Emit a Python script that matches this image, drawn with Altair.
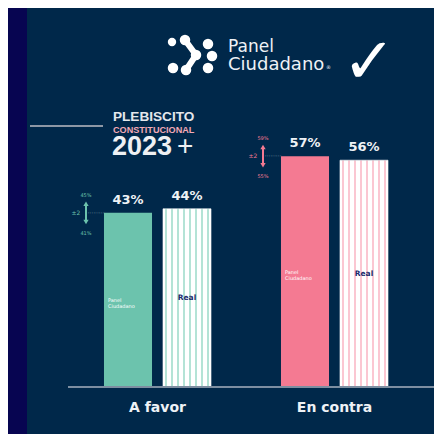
import altair as alt
import pandas as pd

# ---------------- data ----------------
categories = ["A favor", "En contra"]
series = ["Panel Ciudadano", "Real"]
panel_values = [43, 57]
real_values = [44, 56]
panel_labels = ["43%", "57%"]
real_labels = ["44%", "56%"]
margin_labels = ["±2", "±2"]
panel_upper = [45, 59]
panel_lower = [41, 55]
upper_labels = ["45%", "59%"]
lower_labels = ["41%", "55%"]
inner_labels = {"Panel Ciudadano": "Panel\nCiudadano", "Real": "Real"}

brand_lines = ["Panel", "Ciudadano"]
title_lines = ["PLEBISCITO", "CONSTITUCIONAL", "2023", "+"]

# logo dots (logo units) and chevron path
logo_x = [5, 18, 29, 41, 45, 41, 6, 19]
logo_y = [7, 5, 20, 9, 21, 33, 33, 35]
logo_size = [70, 110, 110, 110, 110, 110, 110, 110]
chev_x = [18, 29, 19]
chev_y = [5, 20, 35]

# ---------------- styles ----------------
BG_OUTER = "#070551"
BG = "#00284a"
TEAL = "#6cc3ad"
PINK = "#f47a92"
TEAL_STRIPE = "#b4e3d6"
PINK_STRIPE = "#fbc7d2"
TXT = "#eef2f6"
NAVY = "#1c2b6b"

SPACER = " "
def key(c, s):
    return f"{c} · {s}"

x_domain = [key(categories[0], series[0]), key(categories[0], series[1]), SPACER,
            key(categories[1], series[0]), key(categories[1], series[1])]

rows = []
for i, c in enumerate(categories):
    rows.append(dict(cat=c, series=series[0], key=key(c, series[0]), value=panel_values[i],
                     mid=panel_values[i] / 2, label=panel_labels[i], inner=inner_labels[series[0]],
                     hi=panel_upper[i], lo=panel_lower[i], hi_label=upper_labels[i],
                     lo_label=lower_labels[i], moe=margin_labels[i]))
    rows.append(dict(cat=c, series=series[1], key=key(c, series[1]), value=real_values[i],
                     mid=real_values[i] / 2, label=real_labels[i], inner=inner_labels[series[1]],
                     hi=None, lo=None, hi_label="", lo_label="", moe=""))
df = pd.DataFrame(rows)
df_panel = df[df.series == series[0]]
df_real = df[df.series == series[1]]
one = pd.DataFrame({"a": [0]})

X = alt.X("key:N", scale=alt.Scale(domain=x_domain, range=[90.5, 385.5],
                                   paddingInner=0.186, paddingOuter=0.093), axis=None)
YS = alt.Scale(domain=[0, 100], range=[379, -26], nice=False)
COL = alt.Color("cat:N", scale=alt.Scale(domain=categories, range=[TEAL, PINK]), legend=None)


def txt(text, x, y, **kw):
    return alt.Chart(one).mark_text(text=text, **kw).encode(x=alt.value(x), y=alt.value(y))


def stripes(color, n=8, w=0.36):
    stops = [alt.GradientStop(offset=0, color="#ffffff")]
    for i in range(n):
        s = (i + 0.5 - w / 2) / n
        e = (i + 0.5 + w / 2) / n
        stops += [alt.GradientStop(offset=s, color="#ffffff"), alt.GradientStop(offset=s, color=color),
                  alt.GradientStop(offset=e, color=color), alt.GradientStop(offset=e, color="#ffffff")]
    stops.append(alt.GradientStop(offset=1, color="#ffffff"))
    return alt.LinearGradient(gradient="linear", stops=stops, x1=0, x2=1, y1=0, y2=0)


# ---------------- background ----------------
bg = alt.Chart(one).mark_rect(color=BG).encode(
    x=alt.value(19), x2=alt.value(426), y=alt.value(0), y2=alt.value(426))

# ---------------- header ----------------
brand = alt.layer(
    txt(brand_lines[0], 220, 44, align="left", baseline="alphabetic", font="DejaVu Sans", fontSize=17, color=TXT),
    txt(brand_lines[1], 220, 62, align="left", baseline="alphabetic", font="DejaVu Sans", fontSize=18, color=TXT),
    txt("®", 318, 61, align="left", baseline="alphabetic", font="DejaVu Sans", fontSize=5, color=TXT),
    txt("✓", 361, 56, align="center", baseline="middle", font="DejaVu Sans", fontSize=64, fontWeight="bold", color="#ffffff"),
)

logo_df = pd.DataFrame({"lx": logo_x, "ly": logo_y, "ls": logo_size})
chev_df = pd.DataFrame({"lx": chev_x, "ly": chev_y, "o": [0, 1, 2]})
LX = alt.X("lx:Q", scale=alt.Scale(domain=[0, 52], range=[159, 211], nice=False, zero=False), axis=None)
LY = alt.Y("ly:Q", scale=alt.Scale(domain=[0, 38], range=[27, 65], nice=False, zero=False), axis=None)
logo = alt.layer(
    alt.Chart(chev_df).mark_line(color="#ffffff", strokeWidth=6, strokeCap="round", strokeJoin="round").encode(
        x=LX, y=LY, order="o:Q"),
    alt.Chart(logo_df).mark_circle(color="#ffffff", opacity=1).encode(
        x=LX, y=LY, size=alt.Size("ls:Q", scale=None, legend=None)),
)

# ---------------- title block ----------------
title = alt.layer(
    alt.Chart(one).mark_rule(color="#8d97a5", strokeWidth=2).encode(
        x=alt.value(22), x2=alt.value(95), y=alt.value(118)),
    txt(title_lines[0], 105, 113, align="left", baseline="alphabetic", font="Liberation Sans",
        fontWeight="bold", fontSize=13.6, color="#e4e7ec"),
    txt(title_lines[1], 105, 125, align="left", baseline="alphabetic", font="Liberation Sans",
        fontWeight="bold", fontSize=9.1, color="#f3a9b6"),
    txt(title_lines[2], 104, 147, align="left", baseline="alphabetic", font="Liberation Sans",
        fontWeight="bold", fontSize=27, color="#eef0f3"),
    txt(title_lines[3], 169, 147, align="left", baseline="alphabetic", font="Liberation Sans",
        fontSize=28, color="#eef0f3"),
)

# ---------------- bars ----------------
base = alt.Chart(df)
panel_bars = alt.Chart(df_panel).mark_bar().encode(
    x=X, y=alt.Y("value:Q", scale=YS, axis=None), y2=alt.datum(0), color=COL)
real_a = alt.Chart(df_real).transform_filter(alt.datum.cat == categories[0]).mark_bar(
    fill=stripes(TEAL_STRIPE), stroke="#ffffff", strokeWidth=0.6).encode(
    x=X, y=alt.Y("value:Q", scale=YS, axis=None), y2=alt.datum(0))
real_b = alt.Chart(df_real).transform_filter(alt.datum.cat == categories[1]).mark_bar(
    fill=stripes(PINK_STRIPE), stroke="#ffffff", strokeWidth=0.6).encode(
    x=X, y=alt.Y("value:Q", scale=YS, axis=None), y2=alt.datum(0))

value_text = base.mark_text(dy=-13, font="DejaVu Sans", fontSize=13, fontWeight="bold", color=TXT).encode(
    x=X, y=alt.Y("value:Q", scale=YS, axis=None), text="label:N")

inner_panel = alt.Chart(df_panel).mark_text(align="left", dx=-20, lineBreak="\n", font="DejaVu Sans",
                                            fontSize=5, color="#ffffff", lineHeight=6).encode(
    x=X, y=alt.Y("mid:Q", scale=YS, axis=None), text="inner:N")
inner_real = alt.Chart(df_real).mark_text(font="DejaVu Sans", fontSize=7.5, fontWeight="bold", color=NAVY).encode(
    x=X, y=alt.Y("mid:Q", scale=YS, axis=None), text="inner:N")

# ---------------- margin of error ----------------
pb = alt.Chart(df_panel)
err = alt.layer(
    pb.mark_rule(xOffset=-42, strokeWidth=2).encode(
        x=X, y=alt.Y("lo:Q", scale=YS, axis=None), y2="hi:Q", color=COL),
    pb.mark_point(shape="triangle-up", filled=True, size=28, opacity=1, xOffset=-42, yOffset=-1).encode(
        x=X, y=alt.Y("hi:Q", scale=YS, axis=None), color=COL),
    pb.mark_point(shape="triangle-down", filled=True, size=28, opacity=1, xOffset=-42, yOffset=1).encode(
        x=X, y=alt.Y("lo:Q", scale=YS, axis=None), color=COL),
    pb.mark_text(dx=-42, dy=-10, font="DejaVu Sans", fontSize=5).encode(
        x=X, y=alt.Y("hi:Q", scale=YS, axis=None), text="hi_label:N", color=COL),
    pb.mark_text(dx=-42, dy=12, font="DejaVu Sans", fontSize=5).encode(
        x=X, y=alt.Y("lo:Q", scale=YS, axis=None), text="lo_label:N", color=COL),
    pb.mark_text(dx=-52, font="DejaVu Sans", fontSize=6).encode(
        x=X, y=alt.Y("value:Q", scale=YS, axis=None), text="moe:N", color=COL),
    pb.mark_text(text="·········", dx=-32, font="DejaVu Sans", fontSize=6, color="#8fa3b3").encode(
        x=X, y=alt.Y("value:Q", scale=YS, axis=None)),
)

baseline = alt.Chart(one).mark_rule(color="#7d8ea1", strokeWidth=2).encode(
    x=alt.value(60), x2=alt.value(426), y=alt.Y("v:Q", scale=YS, axis=None)).transform_calculate(v="0")

cat_text = alt.Chart(df_panel).mark_text(dx=29.5, font="DejaVu Sans", fontSize=14, fontWeight="bold",
                                         color=TXT).encode(x=X, y=alt.value(400), text="cat:N")

main = alt.layer(panel_bars, real_a, real_b, baseline, value_text, inner_panel, inner_real, err, cat_text)

chart = alt.layer(bg, brand, title, logo, main).resolve_scale(
    x="independent", y="independent", color="independent"
).properties(
    width=426, height=426, padding=0,
    autosize=alt.AutoSizeParams(type="none"),
    background=BG_OUTER,
).configure_view(stroke=None)

chart.save("out.html", embed_options={"renderer": "svg", "actions": False})
